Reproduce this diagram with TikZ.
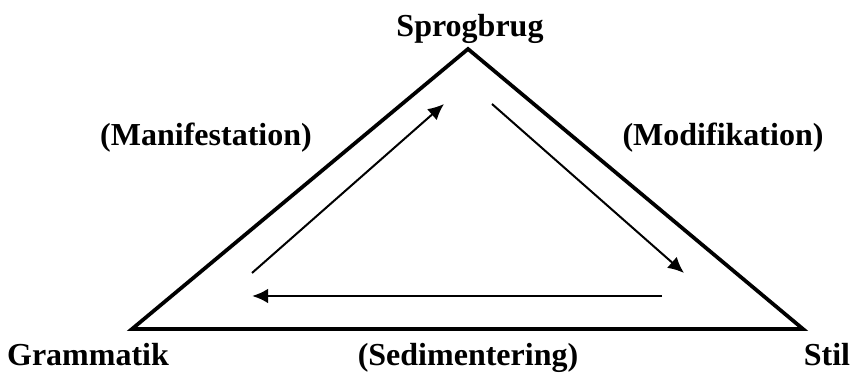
\documentclass[tikz,border=0pt]{standalone}
\usepackage{fontspec}
\setmainfont{Liberation Serif}
\usetikzlibrary{arrows.meta}

\begin{document}
\begin{tikzpicture}[x=0.75pt,y=-0.75pt,
  lbl/.style={font=\fontsize{24}{29}\selectfont\bfseries, anchor=base, inner sep=0pt},
  flow/.style={line width=1.5pt, -{Latex[length=12pt,width=11pt]}}]
\useasboundingbox (0,0) rectangle (851,373);
% corners
\coordinate (G) at (132,329);
\coordinate (S) at (468,49);
\coordinate (T) at (803,329);
\draw[line width=2.8pt] (G) -- (S) -- (T) -- cycle;
% labels
\node[lbl] (sprogbrug) at (470,37) {Sprogbrug};
\node[lbl] (manifest) at (206,146) {(Manifestation)};
\node[lbl] (modif) at (723,146) {(Modifikation)};
\node[lbl] (grammatik) at (88,366) {Grammatik};
\node[lbl] (sediment) at (468,366) {(Sedimentering)};
\node[lbl] (stil) at (827,366) {Stil};
% arrows
\coordinate (a1) at (252,273);
\coordinate (a2) at (444,104);
\coordinate (b1) at (492,104);
\coordinate (b2) at (684,273);
\coordinate (c1) at (662,296);
\coordinate (c2) at (252,296);
\draw[flow] (a1) -- (a2);
\draw[flow] (b1) -- (b2);
\draw[flow, line width=2pt] (c1) -- (c2);
\end{tikzpicture}
\end{document}
